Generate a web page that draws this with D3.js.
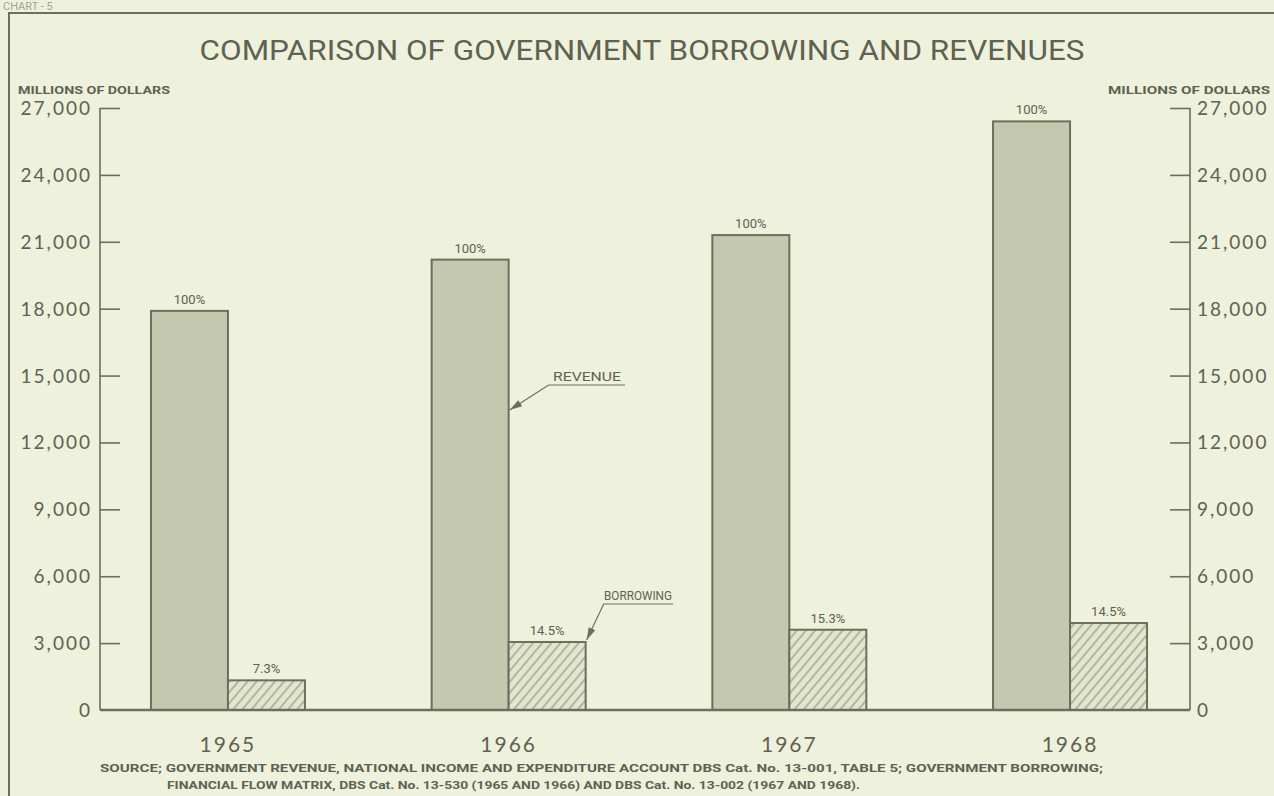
<!DOCTYPE html>
<html>
<head>
<meta charset="utf-8">
<script src="https://d3js.org/d3.v7.min.js"></script>
<style>
  html, body { margin: 0; padding: 0; background: #eef1dc; }
  svg { display: block; }
</style>
</head>
<body>
<div id="chart"></div>
<script>
// data
var years = ["1965", "1966", "1967", "1968"];
var revenue = [17900, 20200, 21300, 26400];
var borrowing = [1330, 3050, 3600, 3900];
var revenueLabels = ["100%", "100%", "100%", "100%"];
var borrowingLabels = ["7.3%", "14.5%", "15.3%", "14.5%"];
var yTicks = [0, 3000, 6000, 9000, 12000, 15000, 18000, 21000, 24000, 27000];

var W = 1274, H = 796;
var ink = "#6c6f5d", textInk = "#5f6251";
var narrow = "Liberation Sans Narrow, Roboto, sans-serif";
var round = "Lato, DejaVu Sans, sans-serif";

var svg = d3.select("#chart").append("svg")
    .attr("width", W)
    .attr("height", H);

svg.append("rect").attr("width", W).attr("height", H).attr("fill", "#eef1dc");

// hatch for borrowing
var defs = svg.append("defs");
var pat = defs.append("pattern")
    .attr("id", "hatch")
    .attr("patternUnits", "userSpaceOnUse")
    .attr("width", 7).attr("height", 7)
    .attr("patternTransform", "rotate(40)");
pat.append("rect").attr("width", 7).attr("height", 7).attr("fill", "#e3e6cf");
pat.append("line").attr("x1", 1).attr("y1", 0).attr("x2", 1).attr("y2", 7)
    .attr("stroke", "#8a8d78").attr("stroke-width", 1.1);

// frame
svg.append("path")
    .attr("d", "M9,796 V13 H1274")
    .attr("fill", "none").attr("stroke", ink).attr("stroke-width", 2);

svg.append("text")
    .attr("x", 3).attr("y", 10)
    .attr("font-family", narrow)
    .attr("font-size", 11).attr("fill", "#a3a693")
    .text("CHART - 5");

// title
svg.append("text")
    .attr("x", 642).attr("y", 60)
    .attr("text-anchor", "middle")
    .attr("font-family", narrow)
    .attr("font-size", 27)
    .attr("fill", textInk)
    .attr("textLength", 885).attr("lengthAdjust", "spacingAndGlyphs")
    .text("COMPARISON OF GOVERNMENT BORROWING AND REVENUES");

// scales
var y = d3.scaleLinear().domain([0, 27000]).range([710, 108]);
var x0 = d3.scaleBand().domain(years).range([87.6, 1210.4])
    .paddingInner(0.4514).paddingOuter(0.2257);
var x1 = d3.scaleBand().domain(["revenue", "borrowing"]).range([0, x0.bandwidth()]);

var left = 100, right = 1190;

// left axis
var gl = svg.append("g").attr("transform", "translate(" + left + ",0)")
    .call(d3.axisRight(y).tickValues(yTicks.slice(1)).tickSize(20).tickFormat(""));
gl.select(".domain").remove();
gl.selectAll("line").attr("stroke", ink).attr("stroke-width", 1.6);
svg.append("line").attr("x1", left).attr("x2", left)
    .attr("y1", y(27000)).attr("y2", y(0))
    .attr("stroke", ink).attr("stroke-width", 1.6);

svg.append("g").selectAll("text").data(yTicks).join("text")
    .attr("x", 92).attr("y", function (d) { return y(d) + 7; })
    .attr("text-anchor", "end")
    .attr("font-family", round)
    .attr("font-size", 19)
    .attr("letter-spacing", 2)
    .attr("fill", textInk)
    .text(function (d) { return d3.format(",")(d); });

// right axis
var gr = svg.append("g").attr("transform", "translate(" + right + ",0)")
    .call(d3.axisLeft(y).tickValues(yTicks.slice(1)).tickSize(20).tickFormat(""));
gr.select(".domain").remove();
gr.selectAll("line").attr("stroke", ink).attr("stroke-width", 1.6);
svg.append("line").attr("x1", right).attr("x2", right)
    .attr("y1", y(27000)).attr("y2", y(0))
    .attr("stroke", ink).attr("stroke-width", 1.6);

svg.append("g").selectAll("text").data(yTicks).join("text")
    .attr("x", 1197).attr("y", function (d) { return y(d) + 7; })
    .attr("font-family", round)
    .attr("font-size", 19)
    .attr("letter-spacing", 2)
    .attr("fill", textInk)
    .text(function (d) { return d3.format(",")(d); });

// unit labels
svg.append("text").attr("x", 18).attr("y", 94)
    .attr("font-family", narrow)
    .attr("font-weight", "bold").attr("font-size", 11).attr("fill", textInk)
    .attr("textLength", 152).attr("lengthAdjust", "spacingAndGlyphs")
    .text("MILLIONS OF DOLLARS");
svg.append("text").attr("x", 1108).attr("y", 94)
    .attr("font-family", narrow)
    .attr("font-weight", "bold").attr("font-size", 11).attr("fill", textInk)
    .attr("textLength", 162).attr("lengthAdjust", "spacingAndGlyphs")
    .text("MILLIONS OF DOLLARS");

// bars
var groups = svg.append("g").selectAll("g").data(years).join("g")
    .attr("transform", function (d) { return "translate(" + x0(d) + ",0)"; });

groups.append("rect")
    .attr("x", x1("revenue"))
    .attr("y", function (d, i) { return y(revenue[i]); })
    .attr("width", x1.bandwidth())
    .attr("height", function (d, i) { return y(0) - y(revenue[i]); })
    .attr("fill", "#c4c8ae").attr("stroke", ink).attr("stroke-width", 2);

groups.append("rect")
    .attr("x", x1("borrowing"))
    .attr("y", function (d, i) { return y(borrowing[i]); })
    .attr("width", x1.bandwidth())
    .attr("height", function (d, i) { return y(0) - y(borrowing[i]); })
    .attr("fill", "url(#hatch)").attr("stroke", ink).attr("stroke-width", 2);

groups.append("text")
    .attr("x", x1("revenue") + x1.bandwidth() / 2)
    .attr("y", function (d, i) { return y(revenue[i]) - 7; })
    .attr("text-anchor", "middle")
    .attr("font-family", narrow)
    .attr("font-size", 13).attr("fill", textInk)
    .text(function (d, i) { return revenueLabels[i]; });

groups.append("text")
    .attr("x", x1("borrowing") + x1.bandwidth() / 2)
    .attr("y", function (d, i) { return y(borrowing[i]) - 7; })
    .attr("text-anchor", "middle")
    .attr("font-family", narrow)
    .attr("font-size", 13).attr("fill", textInk)
    .text(function (d, i) { return borrowingLabels[i]; });

// year labels
groups.append("text")
    .attr("x", x0.bandwidth() / 2)
    .attr("y", 752)
    .attr("text-anchor", "middle")
    .attr("font-family", round)
    .attr("font-size", 21).attr("letter-spacing", 2)
    .attr("fill", textInk)
    .text(function (d) { return d; });

// baseline
svg.append("line").attr("x1", left).attr("x2", right)
    .attr("y1", y(0)).attr("y2", y(0))
    .attr("stroke", ink).attr("stroke-width", 2.4);

// annotations
function arrow(tipX, tipY, elbowX, elbowY, endX) {
    svg.append("path")
        .attr("d", "M" + tipX + "," + tipY + " L" + elbowX + "," + elbowY + " H" + endX)
        .attr("fill", "none").attr("stroke", ink).attr("stroke-width", 1.2);
    var ang = Math.atan2(elbowY - tipY, elbowX - tipX);
    var len = 13, wid = 0.28;
    var p1 = [tipX + len * Math.cos(ang - wid), tipY + len * Math.sin(ang - wid)];
    var p2 = [tipX + len * Math.cos(ang + wid), tipY + len * Math.sin(ang + wid)];
    svg.append("path")
        .attr("d", "M" + tipX + "," + tipY + " L" + p1 + " L" + p2 + " Z")
        .attr("fill", ink);
}

var revX = x0("1966") + x1("revenue") + x1.bandwidth();
arrow(revX + 1, 410, revX + 40, 385, 625);
svg.append("text").attr("x", 553).attr("y", 381)
    .attr("font-family", narrow)
    .attr("font-size", 13).attr("fill", textInk)
    .attr("textLength", 68).attr("lengthAdjust", "spacingAndGlyphs")
    .text("REVENUE");

var borX = x0("1966") + x1("borrowing") + x1.bandwidth();
arrow(borX + 1, y(borrowing[1]) - 2, borX + 18, 604, 673);
svg.append("text").attr("x", 604).attr("y", 600)
    .attr("font-family", narrow)
    .attr("font-size", 12).attr("fill", textInk)
    .attr("textLength", 68).attr("lengthAdjust", "spacingAndGlyphs")
    .text("BORROWING");

// source
svg.append("text").attr("x", 100).attr("y", 772)
    .attr("font-family", narrow)
    .attr("font-weight", "bold").attr("font-size", 11).attr("fill", textInk)
    .attr("textLength", 1003).attr("lengthAdjust", "spacingAndGlyphs")
    .text("SOURCE; GOVERNMENT REVENUE, NATIONAL INCOME AND EXPENDITURE ACCOUNT DBS Cat. No. 13-001, TABLE 5; GOVERNMENT BORROWING;");
svg.append("text").attr("x", 167).attr("y", 789)
    .attr("font-family", narrow)
    .attr("font-weight", "bold").attr("font-size", 11).attr("fill", textInk)
    .attr("textLength", 693).attr("lengthAdjust", "spacingAndGlyphs")
    .text("FINANCIAL FLOW MATRIX, DBS Cat. No. 13-530 (1965 AND 1966) AND DBS Cat. No. 13-002 (1967 AND 1968).");
</script>
</body>
</html>
